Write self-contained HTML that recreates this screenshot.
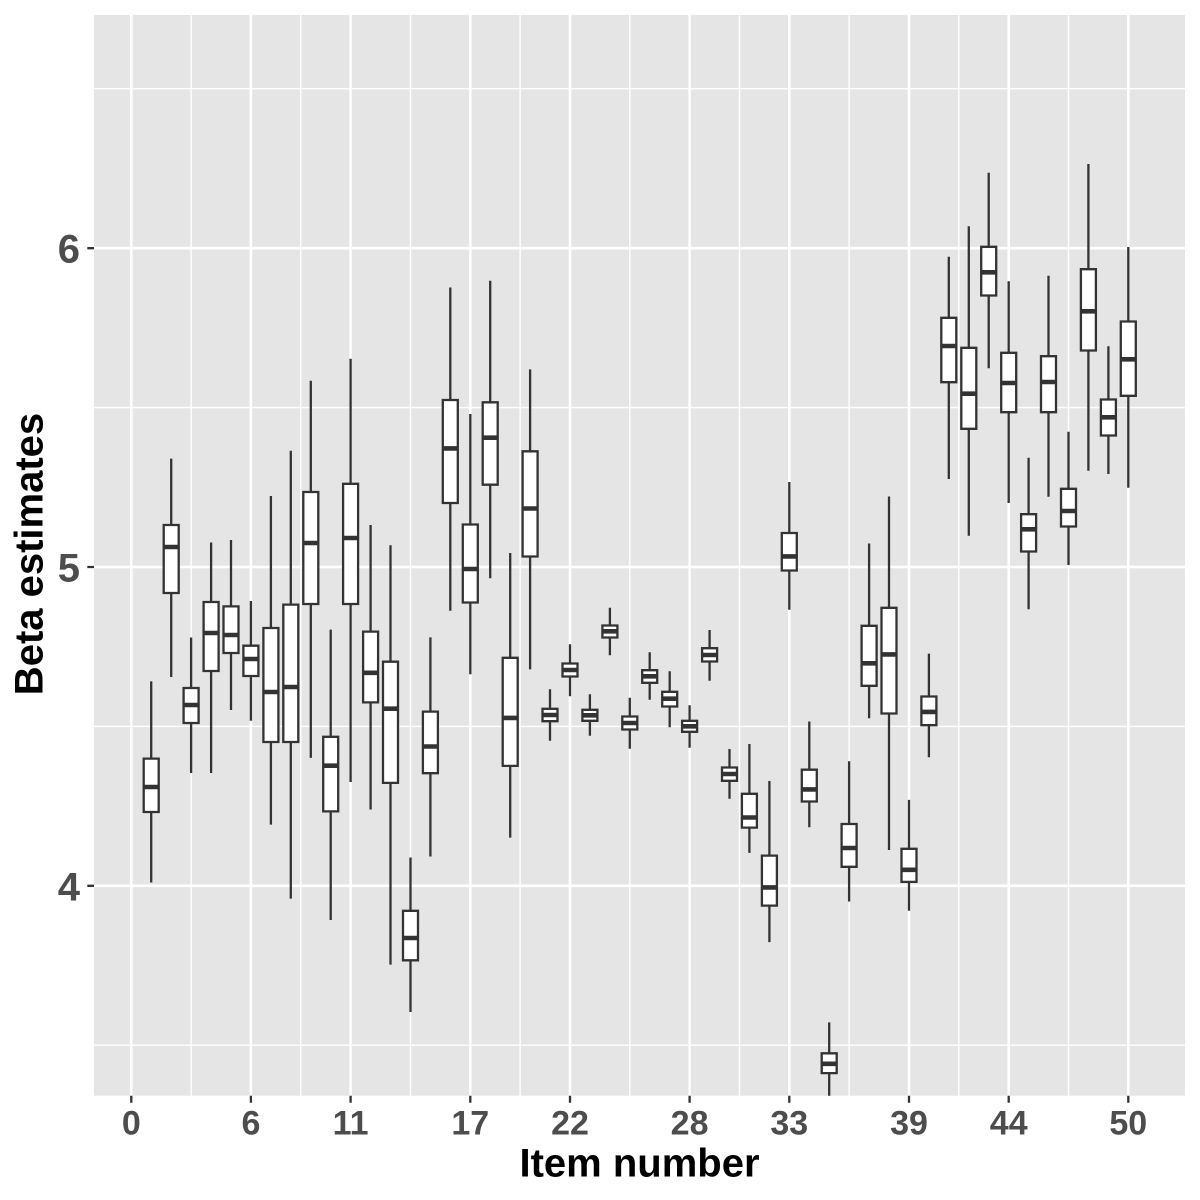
<!DOCTYPE html>
<html>
<head>
<meta charset="utf-8">
<style>
html,body{margin:0;padding:0;background:#fff;}
svg{display:block;}
text{font-family:"Liberation Sans",Arial,sans-serif;font-weight:bold;}
</style>
</head>
<body>
<svg width="1200" height="1200" viewBox="0 0 1200 1200" xmlns="http://www.w3.org/2000/svg">
<defs>
<clipPath id="pc"><rect x="94" y="15" width="1091" height="1080.7"/></clipPath>
</defs>
<rect x="0" y="0" width="1200" height="1200" fill="#fff"/>
<rect x="94" y="15" width="1091" height="1080.7" fill="#E5E5E5"/>
<path stroke="#fff" stroke-width="1.4" fill="none" d="M94 88.7H1185M94 407.6H1185M94 726.4H1185M94 1045.2H1185M191.1 15V1095.7M300.8 15V1095.7M410.5 15V1095.7M520.1 15V1095.7M629.8 15V1095.7M739.5 15V1095.7M849.1 15V1095.7M958.8 15V1095.7M1068.5 15V1095.7"/>
<path stroke="#fff" stroke-width="2.6" fill="none" d="M94 248.2H1185M94 567H1185M94 885.8H1185M131.3 15V1095.7M250.9 15V1095.7M350.6 15V1095.7M470.3 15V1095.7M570 15V1095.7M689.6 15V1095.7M789.3 15V1095.7M909 15V1095.7M1008.7 15V1095.7M1128.3 15V1095.7"/>
<g clip-path="url(#pc)" stroke="#333333">
<path fill="none" stroke-width="2.3" d="M151.2 681.4V882.5M171.2 458.6V677M191.1 637.5V773M211.1 542.5V773M231 540V710M250.9 601V720.7M270.9 496V824.6M290.8 450.7V898.6M310.8 380.7V757.9M330.7 629.6V920M350.6 358.7V782M370.6 525V809.5M390.5 545.3V964.6M410.5 857.5V1012M430.4 637.4V856.5M450.3 287.5V610.8M470.3 414V674.3M490.2 280.7V578.3M510.2 553V837.6M530.1 369.4V669.4M550 689.3V740.7M570 644.3V696.3M589.9 694.3V735.7M609.9 607.7V655.3M629.8 697.7V748.7M649.7 652.3V699.7M669.7 671.3V727.3M689.6 705.3V747.7M709.6 630V680.7M729.5 749V798.7M749.4 744V852.9M769.4 781V942.1M789.3 482V609.8M809.3 721.5V827.2M829.2 1022.4V1100M849.1 761.3V901.5M869.1 543.5V718.3M889 496.5V850M909 799.9V910.7M928.9 653.6V757.3M948.8 256.7V479M968.8 226.3V535.7M988.7 172.7V368.3M1008.7 281.3V503M1028.6 457.7V609.3M1048.5 275.7V496.7M1068.5 431.7V565M1088.4 164V470.7M1108.4 346.3V474M1128.3 247V487.7"/>
<path fill="#fff" stroke-width="2.3" d="M143.7 758.6h15v53.4h-15zM163.7 525h15v68h-15zM183.6 688h15v35h-15zM203.6 602h15v69h-15zM223.5 606.4h15v46.6h-15zM243.4 645.7h15v30.3h-15zM263.4 628h15v114h-15zM283.3 604.6h15v137.4h-15zM303.3 492h15v112h-15zM323.2 736.8h15v74.6h-15zM343.1 483.8h15v120.2h-15zM363.1 631.6h15v70.8h-15zM383 661.7h15v121.2h-15zM403 910.8h15v49.5h-15zM422.9 711.6h15v61.6h-15zM442.8 400h15v103h-15zM462.8 524.5h15v78h-15zM482.7 402.3h15v82.4h-15zM502.7 657.8h15v108.1h-15zM522.6 451.3h15v105.2h-15zM542.5 708.8h15v12.4h-15zM562.5 663.5h15v13h-15zM582.4 709.8h15v11h-15zM602.4 625.5h15v12h-15zM622.3 716.5h15v13h-15zM642.2 670.2h15v12.6h-15zM662.2 691.8h15v14.7h-15zM682.1 720.8h15v11h-15zM702.1 648.2h15v13.3h-15zM722 767.5h15v13.3h-15zM741.9 793.8h15v33.8h-15zM761.9 855.6h15v50h-15zM781.8 533h15v37.5h-15zM801.8 769.7h15v31.8h-15zM821.7 1053.3h15v19.8h-15zM841.6 824h15v42.8h-15zM861.6 625.8h15v60h-15zM881.5 607.8h15v105.7h-15zM901.5 848.8h15v33.1h-15zM921.4 696.5h15v28.7h-15zM941.3 317.8h15v64.4h-15zM961.3 347.8h15v81h-15zM981.2 246.8h15v48.7h-15zM1001.2 352.8h15v59.4h-15zM1021.1 514.2h15v37.3h-15zM1041 356.2h15v56h-15zM1061 488.8h15v37.7h-15zM1080.9 269.2h15v81.3h-15zM1100.9 399.5h15v36h-15zM1120.8 321.5h15v74.3h-15z"/>
<path fill="none" stroke-width="4.6" d="M143.7 787h15M163.7 547h15M183.6 705h15M203.6 633h15M223.5 635h15M243.4 659h15M263.4 692h15M283.3 687h15M303.3 543h15M323.2 765.7h15M343.1 538h15M363.1 672.8h15M383 708.7h15M403 938h15M422.9 746.5h15M442.8 448.4h15M462.8 569h15M482.7 437.7h15M502.7 717.9h15M522.6 508.5h15M542.5 715h15M562.5 670h15M582.4 715.3h15M602.4 631.3h15M622.3 723h15M642.2 676.3h15M662.2 698.7h15M682.1 726.3h15M702.1 655h15M722 774h15M741.9 817.5h15M761.9 887.4h15M781.8 556.4h15M801.8 789.4h15M821.7 1063.8h15M841.6 848h15M861.6 663.3h15M881.5 654.4h15M901.5 869.8h15M921.4 711.9h15M941.3 346h15M961.3 393.7h15M981.2 272.3h15M1001.2 383h15M1021.1 529.3h15M1041 382h15M1061 511h15M1080.9 311.3h15M1100.9 417.3h15M1120.8 359.3h15"/>
</g>
<path stroke="#333333" stroke-width="2.3" fill="none" d="M87.3 248.2H94M87.3 567H94M87.3 885.8H94M131.3 1095.7V1102.7M250.9 1095.7V1102.7M350.6 1095.7V1102.7M470.3 1095.7V1102.7M570 1095.7V1102.7M689.6 1095.7V1102.7M789.3 1095.7V1102.7M909 1095.7V1102.7M1008.7 1095.7V1102.7M1128.3 1095.7V1102.7"/>
<g fill="#4D4D4D" font-size="40" text-anchor="end">
<text x="80" y="262.7">6</text>
<text x="80" y="581.5">5</text>
<text x="80" y="900.5">4</text>
</g>
<g fill="#4D4D4D" font-size="34" text-anchor="middle">
<text x="131.3" y="1134.5">0</text>
<text x="250.9" y="1134.5">6</text>
<text x="350.6" y="1134.5">11</text>
<text x="470.3" y="1134.5">17</text>
<text x="570" y="1134.5">22</text>
<text x="689.6" y="1134.5">28</text>
<text x="789.3" y="1134.5">33</text>
<text x="909" y="1134.5">39</text>
<text x="1008.7" y="1134.5">44</text>
<text x="1128.3" y="1134.5">50</text>
</g>
<text x="639.5" y="1176.7" font-size="40" fill="#000" text-anchor="middle">Item number</text>
<text transform="translate(42.7,554) rotate(-90)" font-size="40" fill="#000" text-anchor="middle">Beta estimates</text>
</svg>
</body>
</html>
